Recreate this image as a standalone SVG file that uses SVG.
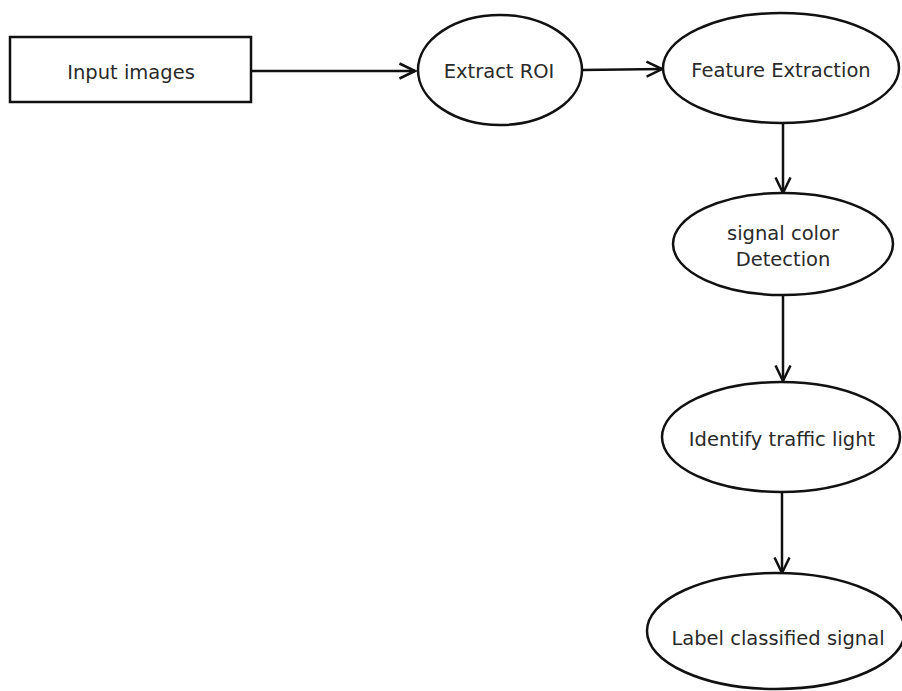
<svg xmlns="http://www.w3.org/2000/svg" width="902" height="691" viewBox="0 0 902 691">
<style>
.shape{fill:#fff;stroke:#111;stroke-width:2.5}
.lbl{font-family:"DejaVu Sans",Verdana,sans-serif;font-size:19.5px;fill:#2a2a2a;text-anchor:middle}
.conn{stroke:#111;stroke-width:2.5;fill:none;marker-end:url(#arr)}
</style>
<defs>
<marker id="arr" viewBox="0 0 18 18" refX="16.5" refY="9" markerWidth="18" markerHeight="18" markerUnits="userSpaceOnUse" orient="auto">
<path d="M1,1.5 L16.5,9 L1,16.5" fill="none" stroke="#111" stroke-width="2.5"/>
</marker>
</defs>
<rect width="902" height="691" fill="#fff"/>
<g id="connectors">
<line class="conn" x1="251" y1="71" x2="415" y2="71"/>
<line class="conn" x1="582" y1="70" x2="662" y2="69"/>
<line class="conn" x1="783" y1="123" x2="783" y2="193"/>
<line class="conn" x1="783" y1="295" x2="783" y2="381"/>
<line class="conn" x1="782" y1="492" x2="782" y2="573"/>
</g>
<g id="input-images">
<rect class="shape" x="10" y="37" width="241" height="65" stroke-width="3"/>
<text class="lbl" x="131" y="79">Input images</text>
</g>
<g id="extract-roi">
<ellipse class="shape" cx="500" cy="70" rx="82" ry="55"/>
<text class="lbl" x="499" y="78">Extract ROI</text>
</g>
<g id="feature-extraction">
<ellipse class="shape" cx="781" cy="68" rx="118" ry="55"/>
<text class="lbl" x="781" y="77">Feature Extraction</text>
</g>
<g id="signal-color-detection">
<ellipse class="shape" cx="783" cy="244" rx="110" ry="51"/>
<text class="lbl" x="783" y="240">signal color</text>
<text class="lbl" x="783" y="266">Detection</text>
</g>
<g id="identify-traffic-light">
<ellipse class="shape" cx="781" cy="437" rx="119" ry="55"/>
<text class="lbl" x="782" y="446">Identify traffic light</text>
</g>
<g id="label-classified-signal">
<ellipse class="shape" cx="776" cy="631" rx="129" ry="58"/>
<text class="lbl" x="778" y="645">Label classified signal</text>
</g>
</svg>
